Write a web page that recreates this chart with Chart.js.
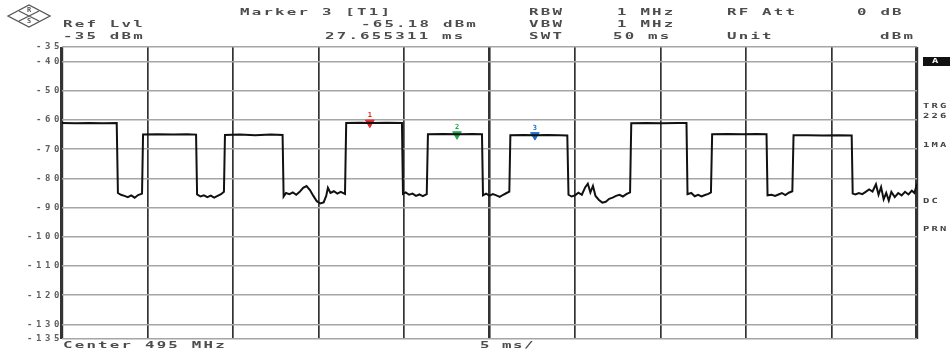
<!DOCTYPE html>
<html>
<head>
<meta charset="utf-8">
<title>Zero span trace - Center 495 MHz</title>
<script src="https://cdn.jsdelivr.net/npm/chart.js@4.4.1/dist/chart.umd.min.js"></script>
<style>
  html, body { margin: 0; padding: 0; background: #fff; }
  #wrap { position: relative; width: 950px; height: 351px; }
</style>
</head>
<body>
<div id="wrap"><canvas id="trace"></canvas></div>
<script>
// trace: sweep time (ms) and level (dBm)
const timeMs = [
  0.00, 0.80, 1.60, 2.40, 3.20,
  3.27, 3.45, 3.65, 3.85, 4.05, 4.25, 4.45, 4.68,
  4.74, 5.60, 6.50, 7.30, 7.84,
  7.90, 8.10, 8.30, 8.50, 8.70, 8.90, 9.10, 9.30, 9.47,
  9.53, 10.40, 11.30, 12.20, 12.90,
  12.96, 13.10, 13.30, 13.50, 13.70, 13.90, 14.10, 14.30, 14.50, 14.70, 14.90, 15.10, 15.30, 15.45, 15.55, 15.70, 15.90, 16.10, 16.30, 16.55,
  16.62, 17.40, 18.20, 19.00, 19.88,
  19.94, 20.10, 20.30, 20.50, 20.70, 20.90, 21.10, 21.33,
  21.40, 22.30, 23.20, 24.00, 24.56,
  24.62, 24.80, 25.00, 25.20, 25.40, 25.60, 25.80, 26.00, 26.16,
  26.22, 27.00, 27.66, 28.40, 29.10, 29.55,
  29.62, 29.80, 30.00, 30.20, 30.40, 30.60, 30.75, 30.90, 31.05, 31.20, 31.40, 31.60, 31.80, 32.00, 32.20, 32.40, 32.60, 32.80, 33.00, 33.22,
  33.29, 34.20, 35.10, 36.00, 36.52,
  36.58, 36.80, 37.00, 37.20, 37.40, 37.60, 37.80, 37.95,
  38.02, 38.90, 39.80, 40.60, 41.20,
  41.26, 41.50, 41.70, 41.90, 42.10, 42.30, 42.50, 42.71,
  42.78, 43.60, 44.50, 45.40, 46.18,
  46.24, 46.40, 46.60, 46.80, 47.00, 47.20, 47.40, 47.60, 47.75, 47.90, 48.05, 48.20, 48.35, 48.50, 48.70, 48.90, 49.10, 49.30, 49.50, 49.70, 49.85, 50.00
];
const levelDbm = [
  -61.0, -61.1, -61.0, -61.1, -61.0,
  -85.0, -85.6, -86.0, -86.4, -85.8, -86.6, -85.7, -85.2,
  -65.0, -64.9, -65.0, -64.9, -65.0,
  -85.5, -86.2, -85.8, -86.4, -85.9, -86.6, -86.0, -85.4, -84.6,
  -65.1, -65.0, -65.2, -65.0, -65.1,
  -86.2, -85.0, -85.4, -84.8, -85.6, -84.6, -83.2, -82.6, -84.0, -86.0, -87.8, -88.6, -88.2, -86.0, -83.2, -85.0, -84.4, -85.2, -84.6, -85.3,
  -61.0, -60.9, -61.0, -60.9, -61.0,
  -85.3, -84.8, -85.6, -85.2, -86.0, -85.5, -86.1, -85.4,
  -64.9, -64.8, -64.9, -64.8, -64.9,
  -85.8, -85.2, -85.9, -85.4, -85.8, -86.3, -85.6, -85.0, -84.5,
  -65.2, -65.1, -65.2, -65.1, -65.2, -65.3,
  -85.6, -86.2, -85.8, -84.9, -85.6, -83.0, -81.8, -84.8, -82.6, -86.0, -87.4, -88.3, -88.0, -87.0, -86.6, -86.0, -85.6, -86.2, -85.4, -84.8,
  -61.1, -61.0, -61.1, -61.0, -61.0,
  -85.4, -85.0, -86.1, -85.6, -86.2, -85.7, -85.3, -84.8,
  -64.9, -64.8, -64.9, -64.8, -64.9,
  -85.8, -85.6, -86.0, -85.5, -85.0, -85.7, -84.9, -84.4,
  -65.2, -65.2, -65.3, -65.2, -65.3,
  -85.2, -85.5, -85.0, -85.4, -84.6, -83.8, -84.5, -82.0, -85.6, -83.0, -87.2, -85.0, -87.6, -84.6, -86.4, -85.0, -85.8, -84.6, -85.5, -84.2, -85.0, -81.8
];

const markerNames = ['1', '2', '3'];
const markerTimeMs = [18.0, 23.1, 27.655];
const markerDbm = [-60.9, -64.9, -65.18];
const markerColors = ['#e8231f', '#1faa4c', '#1f6fd1'];

const yTicks = [-35, -40, -50, -60, -70, -80, -90, -100, -110, -120, -130, -135];
const xTicks = [0, 5, 10, 15, 20, 25, 30, 35, 40, 45, 50];

const MONO = "'DejaVu Sans Mono', 'Liberation Mono', monospace";

// wide, letter-spaced screen text like the analyser display
function screenText(ctx, text, x, y, opts) {
  const o = Object.assign({ size: 9, pitch: 11.7, stretch: 1.75, color: '#4d4d4d' }, opts || {});
  const charW = o.size * 0.602;
  ctx.save();
  ctx.font = 'bold ' + o.size + 'px ' + MONO;
  ctx.fillStyle = o.color;
  ctx.textBaseline = 'middle';
  ctx.textAlign = 'left';
  ctx.translate(x, y);
  ctx.scale(o.stretch, 1);
  ctx.letterSpacing = Math.max(0, o.pitch / o.stretch - charW).toFixed(2) + 'px';
  ctx.fillText(text, 0, 0);
  ctx.restore();
}

const screenPlugin = {
  id: 'screen',
  beforeDraw(chart) {
    chart.ctx.letterSpacing = '3.6px';
  },
  beforeDatasetsDraw(chart) {
    chart.ctx.letterSpacing = '0px';
  },
  afterDatasetsDraw(chart) {
    const ctx = chart.ctx;
    const meta = chart.getDatasetMeta(1);
    meta.data.forEach((pt, i) => {
      ctx.save();
      ctx.font = 'bold 7px ' + MONO;
      ctx.fillStyle = markerColors[i];
      ctx.textAlign = 'center';
      ctx.textBaseline = 'middle';
      ctx.fillText(markerNames[i], pt.x, pt.y - 7);
      ctx.restore();
    });
  },
  afterDraw(chart) {
    const ctx = chart.ctx;
    ctx.letterSpacing = '0px';

    // R&S logo
    ctx.save();
    ctx.strokeStyle = '#555';
    ctx.lineWidth = 1.3;
    ctx.beginPath();
    ctx.moveTo(8, 16); ctx.lineTo(29, 5); ctx.lineTo(50, 16); ctx.lineTo(29, 27); ctx.closePath();
    ctx.stroke();
    ctx.beginPath();
    ctx.moveTo(19, 11); ctx.lineTo(39, 21);
    ctx.moveTo(19, 21); ctx.lineTo(39, 11);
    ctx.stroke();
    ctx.font = 'bold 7px ' + MONO;
    ctx.fillStyle = '#555';
    ctx.textAlign = 'center';
    ctx.textBaseline = 'middle';
    ctx.fillText('R', 29, 10.5);
    ctx.fillText('S', 29, 21.5);
    ctx.restore();

    // header block
    screenText(ctx, 'Marker 3 [T1]', 240, 13);
    screenText(ctx, 'RBW', 529, 13);
    screenText(ctx, '1 MHz', 617, 13);
    screenText(ctx, 'RF Att', 727, 13);
    screenText(ctx, '0 dB', 857, 13);
    screenText(ctx, 'Ref Lvl', 63, 25);
    screenText(ctx, '-65.18 dBm', 361, 25);
    screenText(ctx, 'VBW', 529, 25);
    screenText(ctx, '1 MHz', 617, 25);
    screenText(ctx, '-35 dBm', 63, 37);
    screenText(ctx, '27.655311 ms', 325, 37);
    screenText(ctx, 'SWT', 529, 37);
    screenText(ctx, '50 ms', 613, 37);
    screenText(ctx, 'Unit', 727, 37);
    screenText(ctx, 'dBm', 880, 37);

    // footer
    screenText(ctx, 'Center 495 MHz', 63, 346);
    screenText(ctx, '5 ms/', 480, 346, { pitch: 11 });

    // side annotations
    ctx.save();
    ctx.fillStyle = '#111';
    ctx.fillRect(923, 57, 27, 9);
    ctx.restore();
    screenText(ctx, 'A', 932, 61.5, { size: 7, pitch: 8, stretch: 1.5, color: '#fff' });
    const side = [['TRG', 106], ['226', 116], ['1MA', 145], ['DC', 201], ['PRN', 229]];
    side.forEach(s => screenText(ctx, s[0], 923, s[1], { size: 7, pitch: 8.5, stretch: 1.5, color: '#444' }));
  }
};

const ctx = document.getElementById('trace').getContext('2d');
new Chart(ctx, {
  data: {
    datasets: [{
      type: 'line',
      data: timeMs.map((t, i) => ({ x: t, y: levelDbm[i] })),
      borderColor: '#111',
      borderWidth: 2,
      pointRadius: 0,
      tension: 0,
      fill: false
    }, {
      type: 'scatter',
      data: markerTimeMs.map((t, i) => ({ x: t, y: markerDbm[i] })),
      pointStyle: 'triangle',
      rotation: 180,
      pointRadius: 5,
      backgroundColor: markerColors,
      borderColor: markerColors,
      borderWidth: 1
    }]
  },
  options: {
    responsive: true,
    maintainAspectRatio: false,
    animation: false,
    layout: { padding: { left: 0, top: 47, right: 33, bottom: 12 } },
    plugins: { legend: { display: false }, tooltip: { enabled: false } },
    scales: {
      x: {
        type: 'linear',
        min: 0,
        max: 50,
        afterBuildTicks: s => { s.ticks = xTicks.map(v => ({ value: v })); },
        afterFit: s => { s.height = 0; },
        ticks: { display: false },
        border: { display: false },
        grid: {
          drawTicks: false,
          color: '#333',
          lineWidth: c => (c.tick.value === 0 || c.tick.value === 50) ? 3.2 : (c.tick.value === 25 ? 2.6 : 1.7)
        }
      },
      y: {
        min: -135,
        max: -35,
        afterBuildTicks: s => { s.ticks = yTicks.map(v => ({ value: v })); },
        afterFit: s => { s.width = 62; },
        border: { display: false },
        grid: { drawTicks: false, color: '#a6a6a6', lineWidth: 1.6 },
        ticks: {
          padding: -1,
          color: '#5e5e5e',
          font: { family: MONO, size: 9, weight: 'bold' },
          callback: v => String(v)
        }
      }
    }
  },
  plugins: [screenPlugin]
});
</script>
</body>
</html>
